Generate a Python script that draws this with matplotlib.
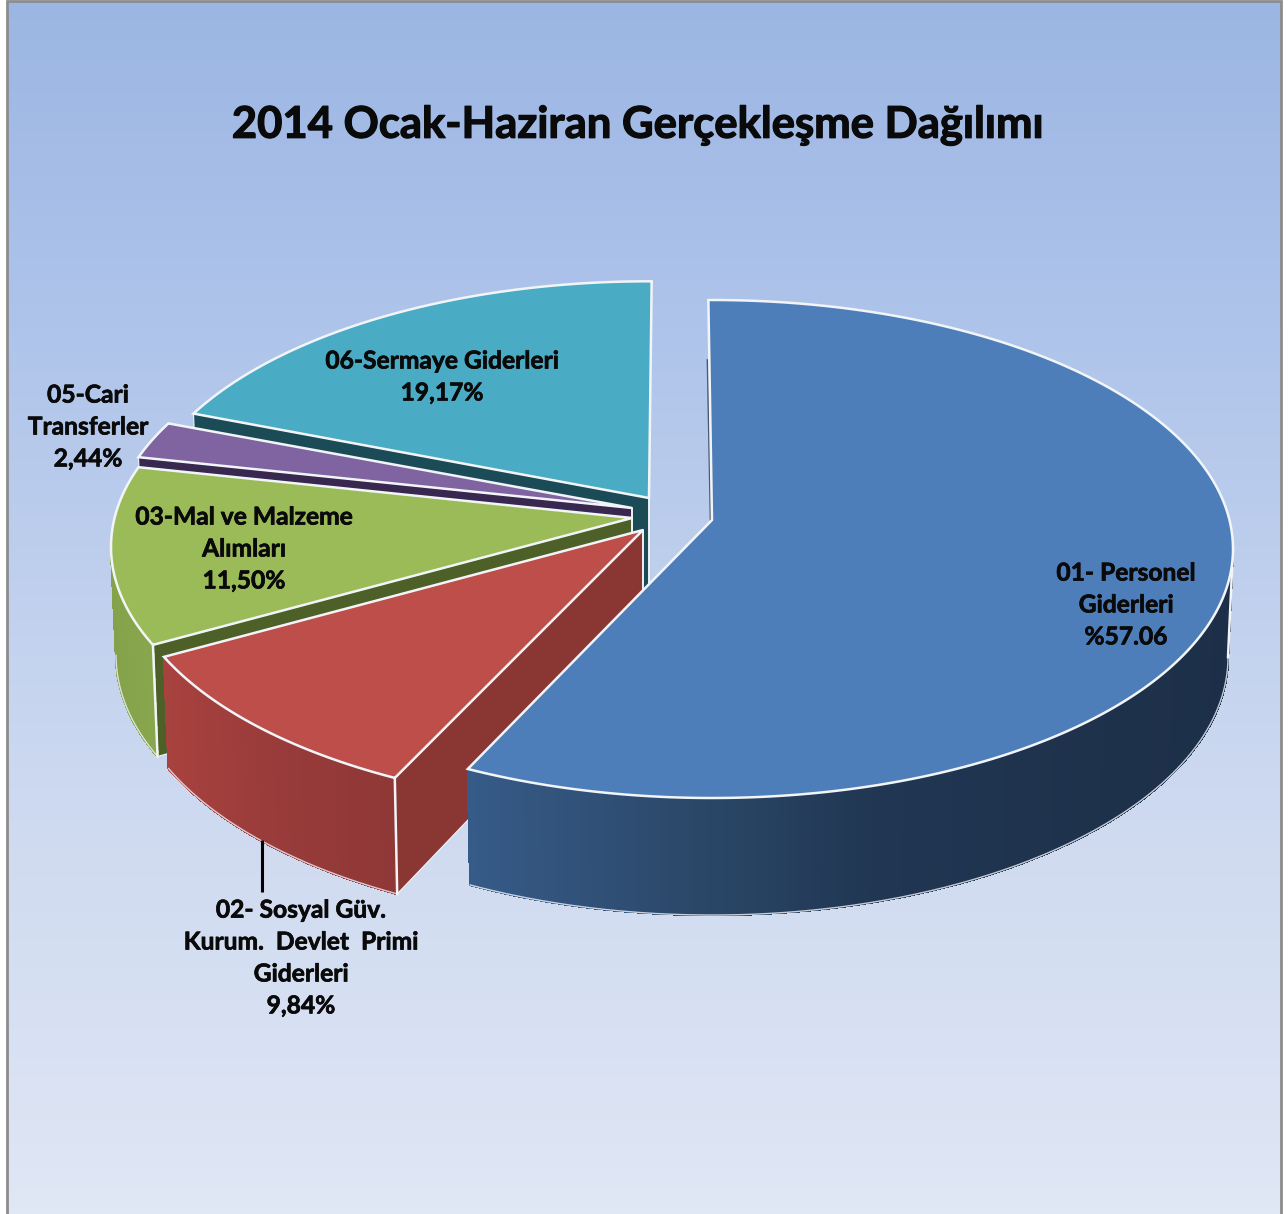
import numpy as np
import matplotlib
matplotlib.use("Agg")
import matplotlib.pyplot as plt
import matplotlib.patheffects as pe
from matplotlib.colors import LinearSegmentedColormap, to_rgb

# ---------- data ----------
title = "2014 Ocak-Haziran Gerçekleşme Dağılımı"
categories = ["01- Personel\nGiderleri", "02- Sosyal Güv.\nKurum.  Devlet  Primi\nGiderleri",
              "03-Mal ve Malzeme\nAlımları", "05-Cari\nTransferler", "06-Sermaye Giderleri"]
values = [57.06, 9.84, 11.50, 2.44, 19.17]
value_labels = ["%57.06", "9,84%", "11,50%", "2,44%", "19,17%"]

# ---------- style / layout ----------
W, H = 1288, 1214
top_colors = ["#4e7eb9", "#bd4e4a", "#9bbb59", "#8064a2", "#4aabc5"]
cut_colors = [None, "#8a3633", "#4c6027", "#38274f", "#1b4b57"]
wall_stops = [
    [(470, "#365b88"), (700, "#2b4768"), (880, "#203652"), (1230, "#1d2f48")],
    [(160, "#a8423e"), (280, "#983b3a"), (400, "#8e3836")],
    [(110, "#84a24a"), (165, "#8aa84e")],
    None, None,
]
apexes = [(712, 520), (643, 530), (632, 518), (632, 508), (649, 498)]
twists = [0.45, 0, 0, 0, -0.3]
scales = [1, 1, 1, 1, 0.985]
RX, RY, LIFT = 521, 249, 29
BRX, BRY, DROP = 516, 258, 107
K = LIFT / RY
EDGE = "#f2f5f8"
label_pos = [(1126, 605), (301, 958), (244, 549), (88, 427), (442, 377)]
thick = [pe.withStroke(linewidth=0.5, foreground="#0a0a0a")]


def disc(theta_deg):
    """True pie angle to the position on the perspective-foreshortened rim."""
    t = np.radians(theta_deg)
    c, s = np.cos(t), np.sin(t)
    d = 1 + K * s
    return c * np.sqrt(1 - K * K) / d, (s + K) / d


def top(i, theta):
    ax_, ay_ = apexes[i]
    u, v = disc(theta)
    return ax_ + scales[i] * RX * u, ay_ + scales[i] * RY * (K - v)


def bottom(i, theta):
    ax_, ay_ = apexes[i]
    u, v = disc(theta)
    return ax_ + scales[i] * BRX * u, ay_ + DROP + scales[i] * BRY * (K - v)


fig = plt.figure(figsize=(W / 100, H / 100), dpi=100, facecolor="white")
ax = fig.add_axes([0, 0, 1, 1])
ax.axis("off")

# background
cmap = LinearSegmentedColormap.from_list(
    "bg", [(0, "#9cb6e3"), (0.25, "#adc3ea"), (0.65, "#cdd9f0"), (1, "#e0e7f5")])
ax.imshow(np.linspace(0, 1, 256)[:, None], cmap=cmap, aspect="auto",
          extent=(8, 1281, H, 2), zorder=0)
ax.set_xlim(0, W)
ax.set_ylim(H, 0)
ax.plot([7, 7, 1281.5, 1281.5], [H, 1, 1, H], color="#8c8c8c", lw=2, zorder=1,
        solid_joinstyle="miter")

# slices, far to near
bounds = 90 - np.concatenate([[0], np.cumsum(values)]) * 3.6
z = 10
for i in [4, 3, 2, 1, 0]:
    start = bounds[i] + twists[i]
    end = bounds[i + 1] + twists[i]
    thetas = np.linspace(start, end, 500)
    ax0, ay0 = apexes[i]
    x1, y1 = top(i, start)

    # straight cut wall on the near side of the slice
    if cut_colors[i]:
        x2, y2 = bottom(i, start)
        ax.fill([x1, ax0, ax0, x2], [y1, ay0, ay0 + DROP, y2], fc=cut_colors[i],
                ec=EDGE, lw=0.8, zorder=z)
        ax.plot([ax0, ax0], [ay0, ay0 + DROP], color=EDGE, lw=1.3, zorder=z)
    else:
        ax.plot([x1 + 0.16 * (ax0 - x1) - 1.5, ax0 - 1.5], [y1 + 60, ay0], color="#4a5a70",
                lw=1.2, zorder=z)

    # curved outer wall, only where it faces the viewer
    stops = wall_stops[i]
    if stops:
        vis = disc(thetas)[1] <= 0
        th = thetas[vis]
        xt, yt = top(i, th)
        xb, yb = bottom(i, th)
        xs = [s[0] for s in stops]
        rgb = np.array([to_rgb(s[1]) for s in stops])
        for j in range(0, len(th) - 1):
            cc = [np.interp(xt[j], xs, rgb[:, n]) for n in range(3)]
            ax.fill([xt[j], xt[j + 1], xb[j + 1], xb[j]],
                    [yt[j], yt[j + 1], yb[j + 1], yb[j]], fc=cc, ec=cc, lw=1.0,
                    antialiased=False, zorder=z + 1)
        ax.plot(xb, yb, color="#eef2fa", lw=1.0, alpha=0.8, zorder=z + 1)
        ax.plot([xt[0], xb[0]], [yt[0], yb[0]], color=EDGE, lw=1.8, zorder=z + 1)

    # top face
    xr, yr = top(i, thetas)
    ax.fill(np.r_[ax0, xr], np.r_[ay0, yr], fc=top_colors[i], ec=EDGE, lw=1.8,
            joinstyle="miter", zorder=z + 2)
    z += 3

# labels
for cat, val, (lx, ly) in zip(categories, value_labels, label_pos):
    ax.text(lx, ly, f"{cat}\n{val}", ha="center", va="center", ma="center",
            family="Lato", weight="bold", fontsize=17.7, linespacing=1.47,
            color="#0a0a0a", zorder=50, path_effects=thick)
ax.plot([262.5, 262.5], [840, 892], color="black", lw=2.2, zorder=50, solid_capstyle="butt")
ax.text(638, 125, title, ha="center", va="center", family="Lato", weight="bold",
        fontsize=31.4, color="#0a0a0a", zorder=50,
        path_effects=[pe.withStroke(linewidth=0.9, foreground="#0a0a0a")])

fig.savefig("out.png", dpi=100, facecolor="white")
